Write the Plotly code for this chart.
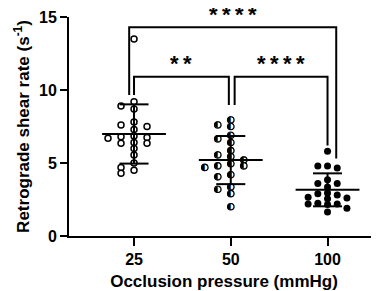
import numpy as np
import plotly.graph_objects as go

# ---- data ----
pressures = ["25", "50", "100"]
shear_25 = [13.5, 9.2, 8.9, 8.7, 7.8, 7.6, 7.5, 7.3, 6.85, 6.8, 6.75, 6.7,
            6.4, 6.35, 6.35, 6.0, 5.55, 5.0, 4.7, 4.5, 4.3]
shear_50 = [7.95, 7.6, 7.5, 6.9, 6.65, 6.4, 5.85, 5.55, 5.45, 5.2, 4.95, 4.8,
            4.8, 4.7, 4.2, 4.05, 3.35, 3.2, 2.9, 2.0]
shear_100 = [5.8, 4.8, 4.8, 4.65, 3.85, 3.6, 3.6, 3.35, 2.95, 2.9, 2.8, 2.65,
             2.6, 2.55, 2.25, 2.2, 2.2, 2.15, 1.9, 1.65]
groups = [shear_25, shear_50, shear_100]

comparisons = [  # (group a, group b, label)
    (0, 1, "**"),
    (1, 2, "****"),
    (0, 2, "****"),
]

# ---- styling / layout constants ----
PX_X = 96.75   # px per category unit
PX_Y = 14.6    # px per y unit
FONT = "Liberation Sans"
Y_MAX = 15


def swarm(vals, step_px, diam_px):
    vals = np.asarray(vals, float)
    order = np.argsort(-vals, kind="stable")
    placed = []
    offs = np.zeros(len(vals))
    cands = [0] + [s * j for j in range(1, 12) for s in (-1, 1)]
    for i in order:
        y = vals[i] * PX_Y
        x = 0.0
        for c in cands:
            x = c * step_px
            if all((x - px) ** 2 + (y - py) ** 2 >= diam_px ** 2 for px, py in placed):
                break
        placed.append((x, y))
        offs[i] = x / PX_X
    return offs


steps = [13, 13, 9.7]

fig = go.Figure()
for gi, vals in enumerate(groups):
    offs = swarm(vals, steps[gi], 5.5)
    xs = gi + offs
    if gi == 0:
        fig.add_trace(go.Scatter(x=xs, y=vals, mode="markers", showlegend=False,
                                 cliponaxis=False,
                                 marker=dict(symbol="circle", size=6, color="white",
                                             line=dict(color="black", width=1.5))))
    elif gi == 1:
        # white disc below, half-filled circle glyph on top
        fig.add_trace(go.Scatter(x=xs, y=vals, mode="markers", showlegend=False,
                                 cliponaxis=False,
                                 marker=dict(symbol="circle", size=6.5, color="white",
                                             line=dict(color="black", width=1.1))))
        fig.add_trace(go.Scatter(x=xs, y=vals, mode="text", showlegend=False,
                                 cliponaxis=False, text=["\u25D0"] * len(vals),
                                 textposition="middle center",
                                 textfont=dict(family="DejaVu Sans", size=9,
                                               color="black")))
    else:
        fig.add_trace(go.Scatter(x=xs, y=vals, mode="markers", showlegend=False,
                                 cliponaxis=False,
                                 marker=dict(symbol="circle", size=7, color="black")))

# mean and SD lines
for gi, vals in enumerate(groups):
    m = float(np.mean(vals))
    sd = float(np.std(vals, ddof=1))
    line = dict(color="black", width=2)
    fig.add_trace(go.Scatter(x=[gi - 0.33, gi + 0.33], y=[m, m], mode="lines",
                             line=line, showlegend=False))
    fig.add_trace(go.Scatter(x=[gi, gi], y=[m - sd, m + sd], mode="lines",
                             line=line, showlegend=False))
    for yv in (m - sd, m + sd):
        fig.add_trace(go.Scatter(x=[gi - 0.15, gi + 0.15], y=[yv, yv], mode="lines",
                                 line=line, showlegend=False))

# significance brackets: (x_left, x_right, y_top, y_left_end, y_right_end, text_y)
bracket_geom = [
    (0.00, 0.98, 10.9, 9.65, 8.97, 11.8),
    (1.04, 2.00, 10.9, 8.97, 6.2, 11.8),
    (-0.05, 2.09, 14.3, 9.65, 5.3, 15.2),
]
shapes = []
annotations = []
for (a, b, label), (xl, xr, yt, yl, yr, ty) in zip(comparisons, bracket_geom):
    shapes.append(dict(type="path", xref="x", yref="y",
                       path=f"M {xl},{yl} L {xl},{yt} L {xr},{yt} L {xr},{yr}",
                       line=dict(color="black", width=2)))
    annotations.append(dict(x=(xl + xr) / 2, y=ty / Y_MAX, xref="x", yref="paper",
                            text="\u2009".join(label), showarrow=False,
                            font=dict(family=FONT, size=22, color="black",
                                      weight="bold"),
                            yanchor="middle", xanchor="center"))

# the page body has an 8px default margin, so the figure is drawn 8px smaller
fig.update_layout(
    width=371, height=283,
    margin=dict(l=61, r=0, t=9, b=55),
    paper_bgcolor="white", plot_bgcolor="white",
    font=dict(family=FONT, color="black"),
    shapes=shapes, annotations=annotations,
    xaxis=dict(range=[-0.672, 2.532], tickvals=[0, 1, 2], ticktext=pressures,
               showline=True, linecolor="black", linewidth=2, ticks="outside",
               ticklen=8, tickwidth=2, tickcolor="black", showgrid=False,
               zeroline=False, automargin=False,
               tickfont=dict(family=FONT, size=16, weight="bold"),
               title=dict(text="Occlusion pressure (mmHg)", standoff=9,
                          font=dict(family=FONT, size=17, weight="bold"))),
    yaxis=dict(range=[0, Y_MAX], tickvals=[0, 5, 10, 15],
               showline=True, linecolor="black", linewidth=2, ticks="outside",
               ticklen=7, tickwidth=2, tickcolor="black", showgrid=False,
               zeroline=False, automargin=False,
               tickfont=dict(family=FONT, size=16, weight="bold"),
               title=dict(text="Retrograde shear rate (s<sup>-1</sup>)", standoff=5,
                          font=dict(family=FONT, size=17, weight="bold"))),
)

fig.write_html("out.html")
